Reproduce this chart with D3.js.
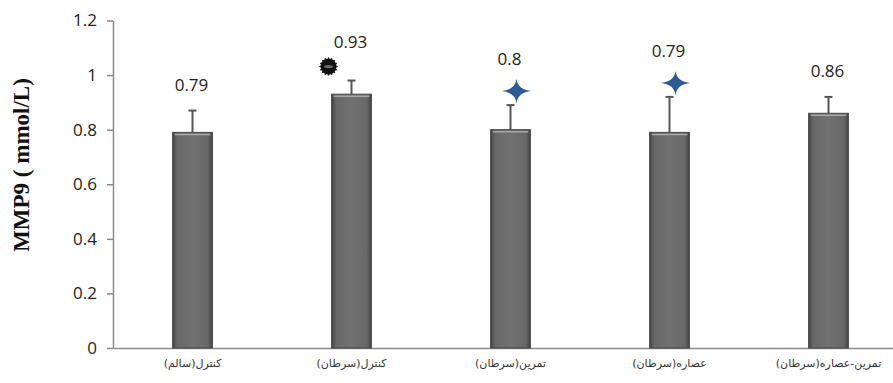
<!DOCTYPE html>
<html>
<head>
<meta charset="utf-8">
<script src="https://cdn.jsdelivr.net/npm/d3@7"></script>
<style>
  html, body { margin: 0; padding: 0; background: #ffffff; }
  svg { display: block; }
</style>
</head>
<body>
<svg id="chart" width="893" height="383"></svg>
<script>
// ---- data ----
const categories = ["کنترل(سالم)", "کنترل(سرطان)", "تمرین(سرطان)", "عصاره(سرطان)", "تمرین-عصاره(سرطان)"];
const means = [0.79, 0.93, 0.8, 0.79, 0.86];
const errors = [0.08, 0.05, 0.09, 0.13, 0.06];
const valueLabels = ["0.79", "0.93", "0.8", "0.79", "0.86"];
const markers = ["none", "sun", "star", "star", "none"];
const yTicks = [0, 0.2, 0.4, 0.6, 0.8, 1, 1.2];
const yTickLabels = ["0", "0.2", "0.4", "0.6", "0.8", "1", "1.2"];
const yTitle = "MMP9 ( mmol/L)";

// ---- layout ----
const svg = d3.select("#chart");
const x = d3.scaleBand().domain(categories).range([113, 908]).paddingInner(0.75).paddingOuter(0.375);
const y = d3.scaleLinear().domain([0, 1.2]).range([348, 20.5]);

const defs = svg.append("defs");
const grad = defs.append("linearGradient").attr("id", "barGrad").attr("x1", "0").attr("x2", "1").attr("y1", "0").attr("y2", "0");
grad.append("stop").attr("offset", "0%").attr("stop-color", "#474747");
grad.append("stop").attr("offset", "12%").attr("stop-color", "#686868");
grad.append("stop").attr("offset", "50%").attr("stop-color", "#717171");
grad.append("stop").attr("offset", "88%").attr("stop-color", "#686868");
grad.append("stop").attr("offset", "100%").attr("stop-color", "#474747");

// y axis
const yAxis = d3.axisLeft(y).tickValues(yTicks).tickFormat((d, i) => yTickLabels[i]).tickSize(6).tickPadding(10).tickSizeOuter(0);
const gy = svg.append("g").attr("transform", "translate(113,0)").call(yAxis);
gy.select(".domain").attr("stroke", "#8a8a8a").attr("stroke-width", 1.5);
gy.selectAll(".tick line").attr("stroke", "#8a8a8a").attr("stroke-width", 1.5);
gy.selectAll(".tick text").attr("font-family", "'Open Sans', sans-serif").attr("font-size", 17).attr("fill", "#222");

// x axis
const xAxis = d3.axisBottom(x).tickSize(0).tickPadding(11).tickSizeOuter(0);
const gx = svg.append("g").attr("transform", "translate(0,348)").call(xAxis);
gx.select(".domain").attr("stroke", "#8a8a8a").attr("stroke-width", 1.5);
gx.selectAll(".tick text").attr("font-family", "'DejaVu Sans', sans-serif").attr("font-size", 11).attr("fill", "#333").attr("direction", "rtl").attr("text-anchor", "middle");

// bars
const bars = svg.append("g");
bars.selectAll("rect.bar").data(means).enter().append("rect")
  .attr("class", "bar")
  .attr("x", (d, i) => x(categories[i]))
  .attr("y", d => y(d))
  .attr("width", x.bandwidth())
  .attr("height", d => y(0) - y(d))
  .attr("fill", "url(#barGrad)")
  .attr("stroke", "#444")
  .attr("stroke-width", 1);
bars.selectAll("line.hl").data(means).enter().append("line")
  .attr("x1", (d, i) => x(categories[i]) + 2)
  .attr("x2", (d, i) => x(categories[i]) + x.bandwidth() - 2)
  .attr("y1", d => y(d) + 2).attr("y2", d => y(d) + 2)
  .attr("stroke", "#a8a8a8").attr("stroke-width", 1.5);

// error bars
const eg = svg.append("g").attr("stroke", "#555").attr("stroke-width", 2);
means.forEach((m, i) => {
  const cx = x(categories[i]) + x.bandwidth() / 2;
  eg.append("line").attr("x1", cx).attr("x2", cx).attr("y1", y(m)).attr("y2", y(m + errors[i]));
  eg.append("line").attr("x1", cx - 4).attr("x2", cx + 4).attr("y1", y(m + errors[i])).attr("y2", y(m + errors[i]));
});

// markers + value labels
const mg = svg.append("g");
function starPath(w, h) {
  const k = 0.1;
  return `M0,${-h} Q${w * k},${-h * k} ${w},0 Q${w * k},${h * k} 0,${h} Q${-w * k},${h * k} ${-w},0 Q${-w * k},${-h * k} 0,${-h} Z`;
}
function sunPath(r1, r2, n) {
  const pts = [];
  for (let j = 0; j < n * 2; j++) {
    const a = Math.PI * j / n;
    const r = j % 2 === 0 ? r1 : r2;
    pts.push([Math.cos(a) * r, Math.sin(a) * r]);
  }
  return "M" + pts.map(p => p.join(",")).join("L") + "Z";
}
means.forEach((m, i) => {
  const cx = x(categories[i]) + x.bandwidth() / 2;
  const top = y(m + errors[i]);
  let labelY;
  if (markers[i] === "sun") {
    const my = top - 14;
    const g = mg.append("g").attr("transform", `translate(${cx - 23},${my})`);
    g.append("path").attr("d", sunPath(9.5, 7.5, 16)).attr("fill", "#1b1b1b");
    g.append("circle").attr("r", 7.5).attr("fill", "#111");
    g.append("ellipse").attr("rx", 4.5).attr("ry", 1.6).attr("fill", "#6a6a6a");
    labelY = my - 24;
  } else if (markers[i] === "star") {
    const my = top - 14;
    mg.append("path").attr("d", starPath(15, 12)).attr("transform", `translate(${cx + 6},${my})`).attr("fill", "#2f5b95");
    labelY = my - 32;
  } else {
    labelY = top - 26;
  }
  mg.append("text").attr("x", cx - 1).attr("y", labelY).attr("dy", "0.35em")
    .attr("text-anchor", "middle").attr("font-family", "'Open Sans', sans-serif").attr("font-size", 17).attr("fill", "#222")
    .text(valueLabels[i]);
});

// y title
svg.append("text").attr("transform", "translate(29,165) rotate(-90)")
  .attr("text-anchor", "middle").attr("font-family", "'Liberation Serif', 'Times New Roman', serif")
  .attr("font-weight", "bold").attr("font-size", 23).attr("fill", "#111").text(yTitle);
</script>
</body>
</html>
